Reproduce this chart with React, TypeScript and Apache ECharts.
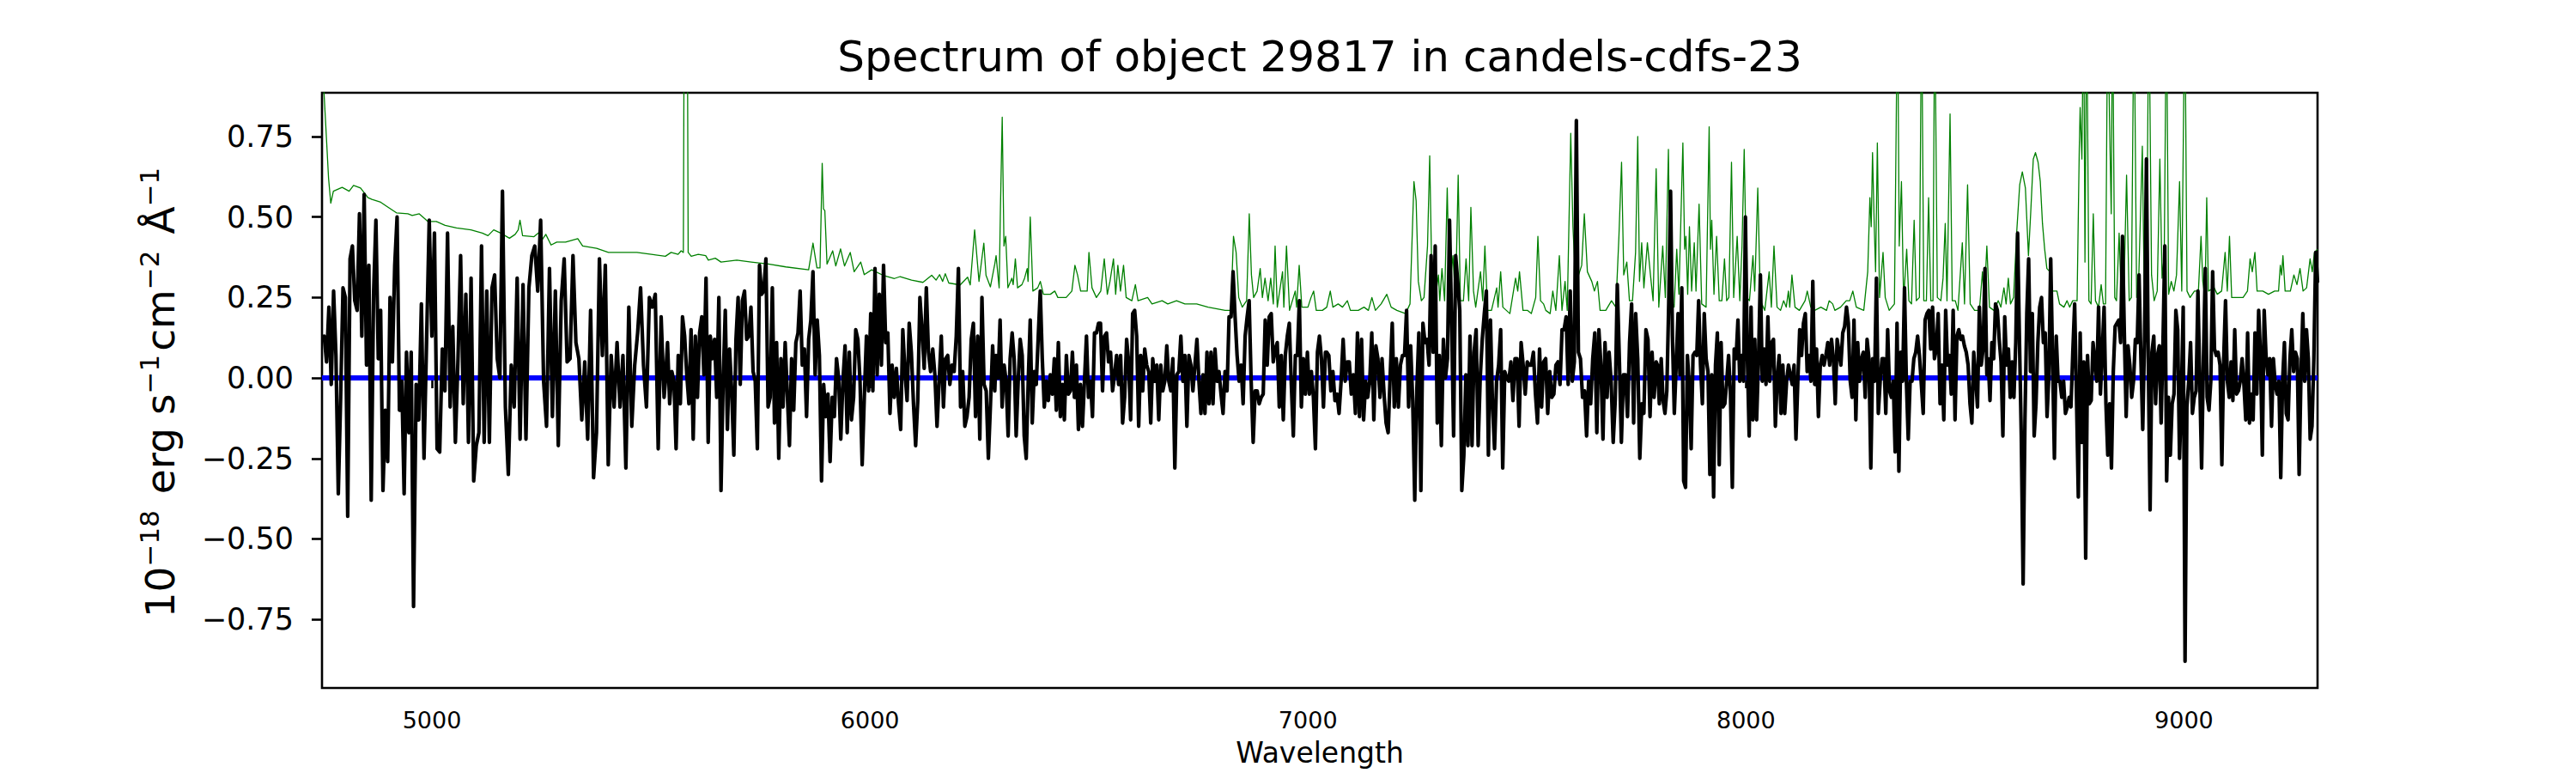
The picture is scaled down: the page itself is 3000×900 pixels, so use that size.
import React, { useEffect, useRef } from "react";
import * as echarts from "echarts";

const FONT = '"DejaVu Sans", "Liberation Sans", sans-serif';
const TITLE = "Spectrum of object 29817 in candels-cdfs-23";
const X_LABEL = "Wavelength";
const X_MIN = 4749;
const X_MAX = 9305;
const Y_MIN = -0.963;
const Y_MAX = 0.886;
const X_TICKS = [5000, 6000, 7000, 8000, 9000];
const Y_TICKS = [-0.75, -0.5, -0.25, 0, 0.25, 0.5, 0.75];

// Observed flux, six segments. Each segment has wavelength anchors [index, wavelength]
// read from the picture; samples between anchors are spaced evenly.
const SEG_ANCHORS = [
  [[0, 4754], [38, 4958], [72, 5161], [127, 5530]],
  [[0, 5533], [-1, 6285]],
  [[0, 6288], [-1, 7040]],
  [[0, 7043], [-1, 7795]],
  [[0, 7798], [-1, 8550]],
  [[0, 8553], [-1, 9305]],
];

const fluxA = [0.13, 0.05, 0.22, -0.02, 0.27, 0.07, -0.36, -0.06, 0.28, 0.25, -0.43, 0.37, 0.41, 0.24, 0.21, 0.51, 0.13, 0.57, 0.04, 0.35, -0.38, 0.26, 0.49, 0.06, 0.21, -0.35, -0.1, -0.26, 0.25, 0.05, 0.35, 0.5, -0.1, -0.01, -0.36, 0.08, -0.17, 0.08, -0.71, -0.02, -0.13, 0.23, -0.25, 0.12, 0.49, 0.13, 0.45, -0.22, -0.23, 0.09, -0.04, 0.45, -0.09, 0.16, -0.2, 0.06, 0.38, -0.08, 0.26, -0.2, 0.31, -0.32, -0.21, -0.17, 0.41, -0.2, 0.27, -0.2, 0.28, 0.32, 0.06, 0.0, 0.58, -0.09, -0.3, 0.04, -0.09, 0.31, -0.19, 0.29, -0.19, 0.28, 0.38, 0.41, 0.27, 0.49, -0.01, -0.15, 0.34, -0.12, 0.27, -0.21, 0.24, 0.37, 0.05, 0.06, 0.38, 0.11, 0.06, -0.13, 0.05, -0.19, 0.21, -0.31, -0.17, 0.37, 0.07, 0.35, -0.27, 0.07, -0.09, 0.11, -0.09, 0.07, -0.28, 0.22, -0.15, 0.04, 0.14, 0.28, 0.04, -0.09, 0.25, 0.22, 0.26, -0.22, 0.19, -0.06];

const fluxB = [-0.01, 0.11, -0.08, 0.02, -0.01, -0.22, 0.07, -0.08, 0.19, 0.13, 0.01, -0.08, 0.15, -0.19, 0.13, -0.06, 0.14, 0.19, 0.01, 0.31, -0.2, 0.13, 0.06, 0.12, -0.06, 0.25, -0.35, -0.01, 0.21, -0.16, 0.09, -0.04, -0.24, 0.12, 0.25, -0.02, 0.24, 0.27, 0.12, 0.13, 0.22, 0.02, -0.01, -0.22, 0.35, 0.26, 0.27, 0.37, -0.09, -0.06, 0.28, -0.14, 0.11, -0.25, 0.06, -0.09, 0.11, -0.05, -0.21, 0.06, -0.1, 0.11, 0.14, 0.27, 0.04, 0.09, -0.12, 0.12, 0.18, 0.33, 0.01, 0.18, 0.07, -0.32, -0.02, -0.12, -0.05, -0.26, -0.06, -0.12, 0.06, 0.0, -0.19, -0.01, 0.1, -0.17, 0.08, -0.13, -0.06, 0.15, 0.12, -0.01, -0.27, -0.06, 0.13, -0.04, 0.2, -0.04, 0.34, 0.01, 0.26, 0.04, 0.35, 0.11, 0.14, -0.11, 0.04, -0.06, 0.03, -0.08, -0.16, 0.15, 0.02, -0.07, 0.17, 0.08, -0.08, -0.21, -0.07, 0.25, 0.15, 0.03, 0.28, 0.08, 0.02, 0.09, 0.01, -0.15, -0.01, 0.13, -0.09, 0.06, 0.07, -0.02, 0.04, 0.02, 0.13, 0.34, -0.09, 0.02, -0.15, -0.12, -0.06, 0.12, 0.17, -0.12, 0.13, -0.19, 0.25, -0.02, -0.04, -0.25, -0.08, 0.1, -0.04];

const fluxC = [0.07, 0.0, 0.18, -0.09, 0.04, -0.01, -0.18, 0.06, 0.14, 0.06, -0.18, -0.01, 0.12, 0.07, -0.18, -0.25, -0.01, 0.18, -0.14, 0.02, -0.02, 0.13, 0.27, 0.06, -0.09, -0.01, -0.07, 0.01, -0.05, 0.06, -0.1, 0.11, -0.12, -0.02, -0.13, 0.07, -0.05, -0.04, 0.08, -0.06, 0.04, -0.16, -0.02, -0.15, -0.01, 0.13, -0.06, -0.01, -0.12, 0.14, 0.14, 0.17, 0.17, -0.04, 0.13, 0.14, 0.05, 0.08, -0.04, 0.01, 0.07, -0.02, 0.07, -0.14, -0.06, 0.12, 0.05, -0.13, 0.2, 0.21, 0.13, -0.15, 0.07, -0.04, 0.09, 0.04, 0.02, -0.14, 0.06, -0.01, 0.04, -0.13, 0.04, -0.04, -0.01, 0.1, -0.01, -0.04, 0.06, -0.28, 0.01, 0.02, 0.13, -0.01, 0.07, -0.15, 0.07, 0.04, -0.04, 0.04, 0.12, -0.01, -0.11, 0.01, -0.11, 0.08, -0.08, 0.08, -0.08, 0.09, -0.01, 0.02, -0.05, -0.11, 0.02, -0.04, 0.19, 0.19, 0.33, 0.19, 0.07, -0.01, 0.04, -0.08, 0.13, 0.19, 0.24, -0.01, -0.2, -0.04, -0.04, -0.08, -0.06, -0.05, 0.18, 0.04, 0.19, 0.2, 0.05, 0.09, 0.11, -0.09, 0.07, -0.13, 0.07, 0.13, 0.17, -0.02, -0.18, 0.07, 0.07, 0.24, -0.09, 0.06, -0.05, 0.08, -0.05, 0.02, -0.06, -0.22, 0.08, 0.13, 0.06, -0.09, 0.08];

const fluxD = [0.08, 0.07, -0.04, 0.02, -0.07, -0.05, -0.11, -0.01, 0.12, -0.01, 0.05, 0.05, -0.05, 0.01, -0.11, 0.14, -0.12, 0.12, -0.13, -0.01, -0.06, -0.01, 0.14, -0.13, 0.1, 0.06, -0.06, 0.06, -0.05, -0.14, -0.17, 0.01, 0.17, -0.09, 0.06, -0.09, 0.04, 0.07, 0.07, 0.21, -0.09, 0.1, -0.07, -0.38, -0.04, 0.14, -0.35, 0.17, 0.11, 0.12, 0.04, 0.38, 0.08, 0.41, -0.14, 0.07, -0.21, 0.12, 0.0, 0.06, 0.49, 0.18, -0.18, 0.38, 0.3, 0.21, -0.35, -0.24, 0.01, -0.21, 0.13, -0.21, 0.08, 0.15, -0.21, 0.0, 0.12, 0.2, 0.27, -0.24, 0.18, -0.08, -0.22, -0.01, 0.04, 0.15, -0.28, 0.02, 0.0, -0.01, 0.05, -0.07, 0.06, 0.06, -0.15, 0.11, 0.04, -0.05, 0.05, 0.04, 0.04, 0.08, -0.05, -0.14, 0.09, -0.09, 0.05, 0.06, -0.11, 0.02, -0.06, -0.05, 0.04, 0.05, -0.02, 0.15, 0.15, 0.19, -0.02, 0.27, -0.01, 0.05, 0.8, 0.08, 0.06, -0.06, -0.04, -0.18, -0.01, -0.08, 0.06, 0.14, -0.17, 0.15, 0.04, -0.19, 0.11, -0.06, 0.08, -0.01, -0.2, -0.07, 0.29, 0.06, -0.2, 0.01, 0.01, -0.12, 0.11, 0.23, -0.14, 0.2, 0.06, -0.25, -0.08, -0.11, 0.15, 0.12, -0.12, 0.08, -0.06, 0.05];

const fluxE = [0.04, -0.08, 0.06, -0.07, -0.11, -0.04, 0.23, 0.58, 0.13, -0.11, 0.04, 0.2, 0.01, 0.28, -0.32, -0.34, 0.07, -0.02, -0.22, 0.07, 0.08, 0.07, 0.24, 0.04, -0.08, 0.2, 0.06, 0.02, -0.3, 0.01, -0.37, 0.04, 0.14, -0.27, 0.11, -0.09, -0.08, -0.01, 0.07, -0.05, -0.34, 0.09, 0.06, 0.18, -0.01, 0.07, -0.01, 0.5, 0.07, -0.18, 0.22, -0.13, 0.12, -0.13, 0.06, 0.32, -0.01, 0.09, -0.02, 0.19, -0.01, 0.11, 0.12, -0.15, 0.0, 0.07, -0.11, 0.04, -0.11, -0.01, 0.04, 0.01, -0.02, 0.04, -0.19, -0.01, 0.15, 0.07, 0.17, 0.2, 0.02, 0.07, -0.01, 0.3, -0.02, 0.09, -0.12, 0.04, 0.07, 0.04, 0.07, 0.11, 0.04, 0.12, 0.06, -0.08, 0.12, 0.08, 0.04, 0.14, 0.16, 0.22, 0.17, -0.01, -0.06, 0.18, -0.13, 0.11, -0.01, 0.06, 0.08, -0.06, 0.12, 0.06, -0.28, 0.06, -0.01, 0.31, -0.11, -0.01, 0.06, 0.06, -0.11, 0.15, -0.04, -0.06, -0.01, -0.23, 0.17, -0.29, 0.08, -0.01, 0.28, -0.01, -0.19, -0.01, -0.01, 0.06, 0.08, 0.13, 0.07, -0.02, -0.11, 0.18, 0.2, 0.21, 0.09, 0.22, 0.06, 0.09, 0.2, -0.08, 0.04, -0.13, 0.21, 0.04, 0.07, -0.05, 0.21, -0.13, 0.13, 0.15, 0.12, 0.13, 0.1, 0.08, 0.04, -0.08, -0.14, 0.08, 0.0, -0.09, 0.22, 0.04, 0.09, 0.34, 0.01];

const fluxF = [0.06, -0.07, 0.11, 0.06, 0.23, 0.21, 0.12, 0.05, -0.18, 0.19, 0.04, 0.09, -0.06, 0.05, -0.06, 0.11, 0.45, 0.12, -0.18, -0.64, -0.13, 0.2, 0.37, 0.02, 0.2, -0.18, -0.08, 0.11, 0.22, 0.25, 0.11, 0.14, -0.12, 0.01, 0.37, 0.06, -0.25, 0.13, -0.01, -0.01, -0.06, -0.01, -0.11, -0.09, -0.06, -0.09, 0.08, 0.23, -0.06, -0.37, 0.14, -0.2, 0.05, -0.56, 0.07, -0.08, -0.07, 0.11, 0.05, -0.01, 0.22, -0.05, 0.08, 0.22, -0.08, -0.24, -0.08, -0.28, 0.02, 0.16, 0.17, 0.18, 0.11, 0.44, 0.14, -0.12, 0.1, 0.04, -0.06, -0.01, 0.12, 0.11, 0.32, 0.06, -0.16, 0.13, 0.68, 0.06, -0.41, 0.08, 0.13, -0.08, 0.07, 0.1, -0.14, 0.11, 0.41, -0.32, -0.06, -0.24, -0.08, -0.05, 0.21, 0.15, -0.25, -0.06, 0.22, -0.88, -0.09, -0.01, 0.11, -0.11, -0.06, -0.04, 0.27, -0.01, -0.28, 0.06, 0.34, -0.06, -0.1, -0.01, 0.33, 0.09, 0.07, 0.08, 0.04, -0.27, 0.06, 0.24, -0.01, -0.06, 0.05, -0.07, 0.15, -0.05, -0.04, -0.01, 0.06, -0.02, -0.13, 0.14, -0.14, -0.05, -0.13, 0.14, -0.05, 0.21, 0.07, -0.24, 0.21, 0.07, 0.01, 0.06, -0.15, 0.06, -0.02, -0.05, -0.01, -0.31, -0.01, 0.11, -0.11, -0.13, 0.06, 0.15, 0.02, 0.08, 0.06, -0.3, 0.01, 0.2, -0.01, 0.15, 0.06, -0.19, -0.15, 0.06, 0.39, 0.3];

// Noise / sky spectrum (green)
const skyWave = [4749, 4757, 4764, 4769, 4775, 4795, 4811, 4821, 4837, 4854, 4863, 4883, 4899, 4919, 4945, 4955, 4971, 4991, 5010, 5030, 5056, 5089, 5115, 5128, 5141, 5157, 5177, 5190, 5197, 5201, 5207, 5233, 5246, 5252, 5260, 5272, 5285, 5305, 5333, 5344, 5376, 5403, 5442, 5468, 5501, 5533,
  5546, 5562, 5569, 5574, 5576, 5583, 5585, 5592, 5608, 5625, 5631, 5647, 5660, 5696, 5729, 5768, 5808, 5860, 5870, 5879, 5886, 5891, 5894, 5897, 5902, 5915, 5922, 5933, 5942, 5955, 5964, 5979, 5987, 6004, 6030, 6056, 6069, 6095, 6121, 6141, 6151, 6159, 6166, 6172, 6180, 6206, 6223, 6229, 6239, 6249, 6260, 6265, 6275, 6285,
  6288, 6295, 6298, 6302, 6306, 6310, 6315, 6324, 6327, 6332, 6337, 6347, 6353, 6359, 6361, 6366, 6372, 6383, 6389, 6396, 6412, 6422, 6429, 6448, 6461, 6468, 6474, 6481, 6496, 6500, 6507, 6517, 6527, 6535, 6542, 6548, 6556, 6561, 6566, 6572, 6579, 6585, 6598, 6606, 6612, 6634, 6644, 6667, 6680, 6700, 6719, 6746, 6772, 6811, 6824, 6830, 6836, 6842, 6850, 6860, 6866, 6871, 6876, 6884, 6891, 6896, 6902, 6909, 6915, 6921, 6925, 6930, 6942, 6945, 6951, 6958, 6971, 6974, 6980, 6986, 7000, 7007, 7013, 7019, 7033, 7043,
  7051, 7057, 7069, 7079, 7090, 7097, 7115, 7128, 7138, 7146, 7154, 7167, 7180, 7190, 7203, 7223, 7233, 7242, 7247, 7252, 7259, 7265, 7273, 7278, 7283, 7291, 7298, 7301, 7306, 7312, 7318, 7323, 7331, 7337, 7343, 7348, 7355, 7361, 7367, 7372, 7378, 7383, 7394, 7399, 7404, 7410, 7419, 7431, 7434, 7440, 7445, 7461, 7474, 7479, 7483, 7491, 7501, 7510, 7520, 7525, 7531, 7538, 7543, 7553, 7559, 7566, 7574, 7580, 7587, 7592, 7600, 7605, 7612, 7618, 7625, 7631, 7638, 7648, 7654, 7661, 7667, 7680, 7693, 7703, 7710, 7716, 7721, 7728, 7734, 7741, 7748, 7753, 7757, 7762, 7767, 7775, 7782, 7788, 7795,
  7801, 7810, 7816, 7823, 7827, 7836, 7842, 7847, 7856, 7860, 7863, 7867, 7871, 7876, 7882, 7886, 7893, 7899, 7909, 7916, 7919, 7922, 7927, 7933, 7939, 7945, 7951, 7956, 7961, 7967, 7972, 7980, 7986, 7991, 7996, 8002, 8008, 8016, 8020, 8027, 8033, 8043, 8053, 8058, 8064, 8071, 8079, 8086, 8092, 8097, 8100, 8105, 8112, 8122, 8135, 8140, 8148, 8157, 8171, 8184, 8190, 8198, 8203, 8216, 8229, 8237, 8244, 8252, 8269, 8278, 8283, 8286, 8289, 8293, 8296, 8300, 8305, 8313, 8318, 8327, 8339, 8346, 8350, 8355, 8360, 8367, 8372, 8378, 8384, 8389, 8396, 8401, 8406, 8412, 8417, 8422, 8427, 8431, 8437, 8445, 8450, 8455, 8459, 8466, 8471, 8478, 8484, 8494, 8499, 8506, 8512, 8522, 8533, 8540, 8544, 8550,
  8556, 8566, 8576, 8582, 8589, 8594, 8599, 8604, 8611, 8618, 8625, 8631, 8638, 8645, 8650, 8656, 8661, 8667, 8672, 8677, 8682, 8687, 8694, 8700, 8710, 8716, 8726, 8733, 8739, 8746, 8756, 8761, 8763, 8767, 8771, 8774, 8778, 8783, 8788, 8793, 8798, 8805, 8811, 8816, 8821, 8826, 8830, 8834, 8837, 8842, 8846, 8852, 8857, 8863, 8869, 8875, 8880, 8886, 8892, 8896, 8905, 8909, 8914, 8920, 8926, 8932, 8939, 8945, 8950, 8955, 8960, 8965, 8971, 8977, 8983, 8990, 8995, 9002, 9007, 9014, 9024, 9033, 9039, 9043, 9048, 9052, 9056, 9069, 9076, 9086, 9094, 9099, 9104, 9109, 9122, 9135, 9145, 9151, 9156, 9162, 9167, 9180, 9193, 9207, 9216, 9220, 9223, 9226, 9231, 9243, 9251, 9258, 9265, 9272, 9280, 9288, 9293, 9298, 9305];

const skyFlux = [1.0, 0.8, 0.62, 0.543, 0.58, 0.592, 0.58, 0.598, 0.59, 0.56, 0.555, 0.546, 0.531, 0.513, 0.51, 0.505, 0.51, 0.486, 0.486, 0.474, 0.466, 0.46, 0.45, 0.442, 0.46, 0.45, 0.434, 0.446, 0.46, 0.49, 0.442, 0.439, 0.454, 0.43, 0.446, 0.413, 0.422, 0.422, 0.433, 0.41, 0.403, 0.39, 0.39, 0.39, 0.384, 0.378,
  0.39, 0.384, 0.395, 0.39, 1.2, 1.2, 0.39, 0.378, 0.384, 0.38, 0.366, 0.372, 0.36, 0.366, 0.36, 0.354, 0.345, 0.336, 0.419, 0.342, 0.342, 0.667, 0.525, 0.52, 0.354, 0.395, 0.348, 0.401, 0.348, 0.39, 0.33, 0.36, 0.321, 0.336, 0.319, 0.309, 0.315, 0.304, 0.297, 0.319, 0.304, 0.321, 0.3, 0.324, 0.295, 0.289, 0.313, 0.289, 0.46, 0.3, 0.419, 0.319, 0.283, 0.354,
  0.38, 0.28, 0.53, 0.81, 0.41, 0.44, 0.28, 0.31, 0.29, 0.37, 0.28, 0.29, 0.31, 0.34, 0.3, 0.5, 0.27, 0.28, 0.3, 0.26, 0.26, 0.27, 0.25, 0.25, 0.27, 0.35, 0.32, 0.27, 0.27, 0.39, 0.28, 0.25, 0.27, 0.37, 0.26, 0.3, 0.37, 0.26, 0.35, 0.27, 0.35, 0.25, 0.24, 0.29, 0.24, 0.25, 0.23, 0.24, 0.23, 0.24, 0.23, 0.23, 0.22, 0.21, 0.21, 0.44, 0.39, 0.25, 0.22, 0.24, 0.51, 0.32, 0.25, 0.27, 0.34, 0.25, 0.31, 0.24, 0.31, 0.23, 0.41, 0.22, 0.33, 0.22, 0.41, 0.21, 0.27, 0.22, 0.35, 0.22, 0.22, 0.25, 0.27, 0.21, 0.21, 0.22,
  0.27, 0.22, 0.23, 0.22, 0.24, 0.21, 0.21, 0.22, 0.21, 0.25, 0.21, 0.23, 0.26, 0.22, 0.21, 0.2, 0.23, 0.61, 0.55, 0.3, 0.24, 0.25, 0.41, 0.69, 0.3, 0.25, 0.32, 0.24, 0.34, 0.24, 0.59, 0.27, 0.38, 0.24, 0.63, 0.24, 0.24, 0.37, 0.24, 0.53, 0.27, 0.22, 0.33, 0.24, 0.41, 0.21, 0.21, 0.28, 0.22, 0.33, 0.22, 0.2, 0.31, 0.27, 0.33, 0.21, 0.21, 0.2, 0.25, 0.44, 0.24, 0.23, 0.21, 0.2, 0.27, 0.21, 0.38, 0.21, 0.3, 0.21, 0.76, 0.47, 0.27, 0.32, 0.35, 0.51, 0.33, 0.3, 0.27, 0.3, 0.21, 0.21, 0.24, 0.22, 0.44, 0.67, 0.32, 0.36, 0.24, 0.24, 0.39, 0.75, 0.3, 0.42, 0.28, 0.42, 0.32, 0.24, 0.65,
  0.22, 0.41, 0.25, 0.71, 0.25, 0.22, 0.4, 0.26, 0.73, 0.4, 0.44, 0.26, 0.47, 0.27, 0.42, 0.27, 0.54, 0.23, 0.22, 0.78, 0.4, 0.49, 0.26, 0.44, 0.24, 0.24, 0.37, 0.24, 0.25, 0.67, 0.25, 0.44, 0.24, 0.41, 0.71, 0.25, 0.24, 0.38, 0.27, 0.59, 0.24, 0.21, 0.33, 0.22, 0.41, 0.22, 0.21, 0.24, 0.22, 0.27, 0.22, 0.32, 0.22, 0.21, 0.24, 0.27, 0.22, 0.21, 0.22, 0.21, 0.24, 0.23, 0.21, 0.22, 0.24, 0.24, 0.27, 0.22, 0.21, 0.33, 0.56, 0.47, 0.7, 0.47, 0.33, 0.73, 0.25, 0.39, 0.25, 0.21, 0.23, 1.2, 0.41, 0.61, 0.24, 0.4, 0.24, 0.23, 0.49, 0.24, 0.25, 1.2, 0.24, 0.24, 0.56, 0.24, 0.24, 1.2, 0.25, 0.24, 0.31, 0.48, 0.24, 0.82, 0.24, 0.24, 0.21, 0.42, 0.23, 0.6, 0.23, 0.21, 0.21, 0.33, 0.24, 0.41,
  0.22, 0.21, 0.24, 0.22, 0.28, 0.23, 0.31, 0.23, 0.25, 0.45, 0.6, 0.64, 0.59, 0.38, 0.51, 0.68, 0.7, 0.67, 0.61, 0.48, 0.4, 0.34, 0.33, 0.27, 0.27, 0.23, 0.22, 0.24, 0.22, 0.24, 0.24, 0.71, 0.84, 0.68, 1.2, 0.36, 1.2, 0.24, 0.23, 0.51, 0.24, 0.22, 0.29, 0.23, 0.23, 1.2, 0.81, 0.51, 1.2, 0.25, 0.24, 0.45, 0.24, 0.27, 0.63, 0.24, 0.25, 1.2, 0.25, 0.27, 0.72, 0.3, 0.25, 1.2, 0.32, 0.24, 0.27, 0.68, 0.31, 0.38, 1.2, 0.26, 0.3, 0.27, 0.32, 0.61, 0.27, 1.2, 0.27, 0.25, 0.27, 0.27, 0.44, 0.3, 0.25, 0.56, 0.27, 0.28, 0.26, 0.27, 0.39, 0.27, 0.44, 0.25, 0.25, 0.25, 0.27, 0.37, 0.33, 0.39, 0.27, 0.27, 0.26, 0.27, 0.27, 0.35, 0.32, 0.38, 0.27, 0.27, 0.32, 0.29, 0.34, 0.27, 0.28, 0.37, 0.33, 0.39, 0.4];

const zeroWave = [X_MIN, X_MAX];
const zeroFlux = [0, 0];

const Y_LABEL_PARTS = [
  { t: "10", sup: false },
  { t: "\u221218", sup: true },
  { t: " erg s", sup: false },
  { t: "\u22121", sup: true },
  { t: "cm", sup: false },
  { t: "\u22122", sup: true },
  { t: " \u00C5", sup: false },
  { t: "\u22121", sup: true },
];

function buildFlux(): number[][] {
  const segs = [fluxA, fluxB, fluxC, fluxD, fluxE, fluxF];
  const out: number[][] = [];
  segs.forEach((vals, s) => {
    const anchors = SEG_ANCHORS[s].map(([i, w]) => [i < 0 ? vals.length - 1 : i, w]);
    for (let k = 0; k < anchors.length - 1; k++) {
      const [i0, w0] = anchors[k];
      const [i1, w1] = anchors[k + 1];
      const startI = k === 0 ? i0 : i0 + 1;
      for (let i = startI; i <= i1; i++) {
        out.push([w0 + ((w1 - w0) * (i - i0)) / (i1 - i0), vals[i]]);
      }
    }
  });
  return out;
}

function fmtY(v: number): string {
  const s = Math.abs(v).toFixed(2);
  return v < -1e-9 ? "\u2212" + s : s;
}

export default function App() {
  const ref = useRef<HTMLDivElement>(null);
  useEffect(() => {
    if (!ref.current) return;
    const chart = echarts.init(ref.current, undefined, { renderer: "svg" });

    const canvas = document.createElement("canvas");
    const ctx = canvas.getContext("2d")!;
    const MAIN = 47;
    const SUP = 31;
    const measure = (t: string, size: number) => {
      ctx.font = `${size}px "DejaVu Sans"`;
      return ctx.measureText(t).width;
    };
    let cursor = 0;
    const pieces: any[] = [];
    Y_LABEL_PARTS.forEach((p) => {
      const size = p.sup ? SUP : MAIN;
      pieces.push({
        type: "text",
        x: cursor,
        y: p.sup ? -12 : 0,
        style: {
          text: p.t,
          fontSize: size,
          fontFamily: FONT,
          fill: "#000",
          align: "left",
          verticalAlign: "middle",
        },
      });
      cursor += measure(p.t, size) + (p.sup ? 4 : 0);
    });
    pieces.forEach((p) => (p.x -= cursor / 2));

    const sky = skyWave.map((w, i) => [w, skyFlux[i]]);
    const zero = zeroWave.map((w, i) => [w, zeroFlux[i]]);

    chart.setOption({
      animation: false,
      backgroundColor: "#fff",
      grid: {
        left: 375,
        top: 108,
        right: 301,
        bottom: 99,
        show: true,
        borderColor: "#000",
        borderWidth: 2.6,
        backgroundColor: "transparent",
        containLabel: false,
      },
      xAxis: {
        type: "value",
        min: X_MIN,
        max: X_MAX,
        axisLine: { show: false },
        splitLine: { show: false },
        axisTick: {
          show: true,
          customValues: X_TICKS,
          length: 12,
          lineStyle: { color: "#000", width: 2.6 },
        },
        axisLabel: {
          customValues: X_TICKS,
          fontSize: 27,
          fontFamily: FONT,
          color: "#000",
          margin: 24,
          formatter: (v: number) => String(v),
        },
      },
      yAxis: {
        type: "value",
        min: Y_MIN,
        max: Y_MAX,
        axisLine: { show: false },
        splitLine: { show: false },
        axisTick: {
          show: true,
          customValues: Y_TICKS,
          length: 12,
          lineStyle: { color: "#000", width: 2.6 },
        },
        axisLabel: {
          customValues: Y_TICKS,
          fontSize: 35,
          fontFamily: FONT,
          color: "#000",
          margin: 33,
          formatter: (v: number) => fmtY(v),
        },
      },
      graphic: [
        {
          type: "text",
          x: 1537,
          y: 66,
          style: {
            text: TITLE,
            fontSize: 50,
            fontFamily: FONT,
            fill: "#000",
            align: "center",
            verticalAlign: "middle",
          },
        },
        {
          type: "text",
          x: 1537,
          y: 876,
          style: {
            text: X_LABEL,
            fontSize: 33,
            fontFamily: FONT,
            fill: "#000",
            align: "center",
            verticalAlign: "middle",
          },
        },
        {
          type: "group",
          x: 186,
          y: 455,
          rotation: Math.PI / 2,
          children: pieces,
        },
      ],
      series: [
        {
          type: "line",
          data: sky,
          symbol: "none",
          showSymbol: false,
          clip: true,
          silent: true,
          lineStyle: { color: "#008000", width: 1.3, join: "round" },
          z: 2,
        },
        {
          type: "line",
          data: zero,
          symbol: "none",
          showSymbol: false,
          clip: true,
          silent: true,
          lineStyle: { color: "#0000ff", width: 6 },
          z: 3,
        },
        {
          type: "line",
          data: buildFlux(),
          symbol: "none",
          showSymbol: false,
          clip: true,
          silent: true,
          lineStyle: { color: "#000000", width: 4.2, join: "round", cap: "round" },
          z: 4,
        },
      ],
    });
    return () => chart.dispose();
  }, []);

  return (
    <div
      ref={ref}
      style={{ position: "absolute", left: 0, top: 0, width: 3000, height: 900 }}
    />
  );
}
